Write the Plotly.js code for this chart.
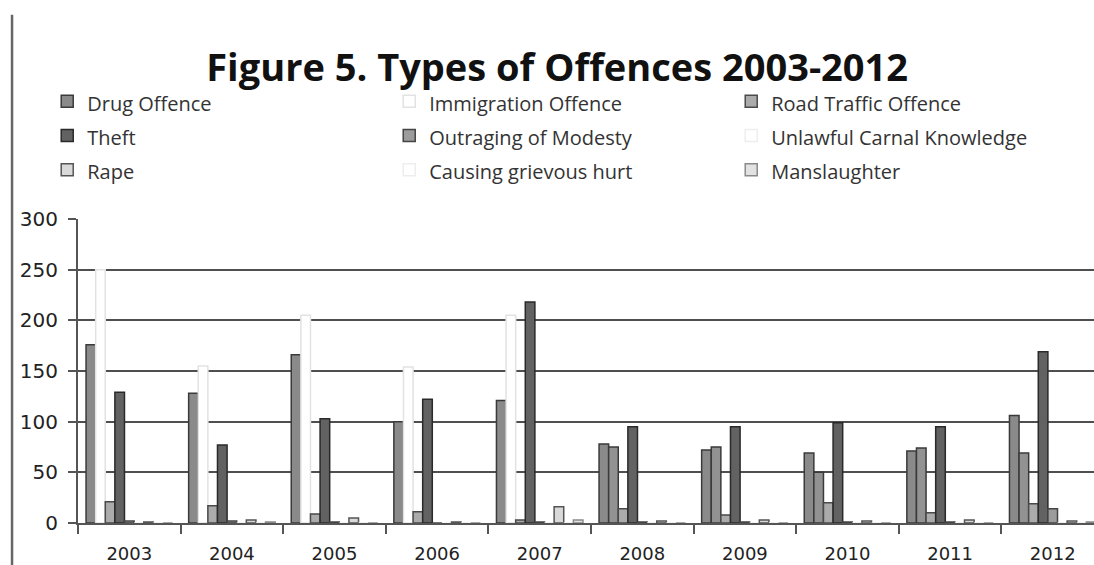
<!DOCTYPE html>
<html>
<head>
<meta charset="utf-8">
<script src="https://cdn.plot.ly/plotly-3.0.1.min.js"></script>
<style>
  html, body { margin: 0; padding: 0; background: #ffffff; overflow: hidden; width: 1094px; height: 565px; }
  #chart { width: 1120px; height: 565px; }
  #chart .legendtext { font-size: 20px !important; }
</style>
</head>
<body>
<div id="chart"></div>
<script>
// ---- data ----
const years = ['2003', '2004', '2005', '2006', '2007', '2008', '2009', '2010', '2011', '2012'];
const drugOffence        = [176, 128, 166, 100, 121, 78, 72, 69, 71, 106];
const immigrationOffence = [250, 155, 205, 154, 205, 75, 75, 50, 74, 69];
const roadTrafficOffence = [21, 17, 9, 11, 3, 14, 8, 20, 10, 19];
const theft              = [129, 77, 103, 122, 218, 95, 95, 99, 95, 169];
const outragingModesty   = [2, 2, 1, 0, 1, 1, 1, 1, 1, 14];
const unlawfulCarnal     = [0, 0, 0, 0, 0, 0, 0, 0, 0, 0];
const rape               = [1, 3, 5, 1, 16, 2, 3, 2, 3, 2];
const causingHurt        = [0, 0, 0, 0, 0, 0, 0, 0, 0, 0];
const manslaughter       = [0, 1, 0, 0, 3, 0, 0, 0, 0, 1];

const seriesNames = ['Drug Offence', 'Immigration Offence', 'Road Traffic Offence',
  'Theft', 'Outraging of Modesty', 'Unlawful Carnal Knowledge',
  'Rape', 'Causing grievous hurt', 'Manslaughter'];
const seriesValues = [drugOffence, immigrationOffence, roadTrafficOffence, theft,
  outragingModesty, unlawfulCarnal, rape, causingHurt, manslaughter];

// ---- styles ----
const fills = [
  '#8a8a8a',
  ['#ffffff', '#ffffff', '#ffffff', '#ffffff', '#ffffff', '#929292', '#929292', '#929292', '#929292', '#929292'],
  '#ababab', '#626262', '#9c9c9c', '#ffffff', '#d9d9d9', '#ffffff', '#e2e2e2'];
const edges = [
  '#3a3a3a',
  ['#e2e2e2', '#e2e2e2', '#e2e2e2', '#e2e2e2', '#e2e2e2', '#3a3a3a', '#3a3a3a', '#3a3a3a', '#3a3a3a', '#3a3a3a'],
  '#4a4a4a', '#2a2a2a', '#444444', '#eeeeee', '#555555', '#eeeeee', '#8a8a8a'];

const traces = seriesNames.map((name, i) => ({
  type: 'bar',
  name: name,
  x: years,
  y: seriesValues[i],
  marker: { color: fills[i], line: { color: edges[i], width: 1.5 } },
  hoverinfo: 'x+y+name'
}));

const layout = {
  width: 1120,
  height: 565,
  margin: { l: 78, r: 16, t: 219, b: 42, pad: 0 },
  paper_bgcolor: '#ffffff',
  plot_bgcolor: '#ffffff',
  barmode: 'group',
  bargap: 0.157,
  bargroupgap: 0,
  title: {
    text: '<b>Figure 5. Types of Offences 2003-2012</b>',
    font: { family: 'Open Sans, Liberation Sans, sans-serif', size: 38, color: '#111111' },
    xref: 'paper', x: 0.467, xanchor: 'center',
    yref: 'container', y: 0.88, yanchor: 'middle'
  },
  showlegend: true,
  legend: {
    orientation: 'h',
    traceorder: 'normal',
    entrywidth: 297,
    entrywidthmode: 'pixels',
    x: -0.03, xanchor: 'left',
    y: 1.46, yanchor: 'top',
    font: { family: 'Open Sans, Liberation Sans, sans-serif', size: 24, color: '#333333' },
    bgcolor: 'rgba(0,0,0,0)'
  },
  xaxis: {
    type: 'category',
    tickson: 'boundaries',
    ticks: 'outside',
    ticklen: 9,
    tickwidth: 2,
    tickcolor: '#555555',
    showline: true,
    linecolor: '#555555',
    linewidth: 2,
    showgrid: false,
    ticklabelstandoff: 13,
    tickfont: { family: 'DejaVu Sans, sans-serif', size: 18, color: '#222222' },
    fixedrange: true
  },
  yaxis: {
    range: [0, 300],
    dtick: 50,
    tick0: 0,
    ticks: 'outside',
    ticklen: 8,
    tickwidth: 2,
    tickcolor: '#555555',
    showline: true,
    linecolor: '#555555',
    linewidth: 2,
    showgrid: true,
    gridcolor: '#4f4f4f',
    gridwidth: 2,
    zeroline: false,
    ticklabelstandoff: 6,
    tickfont: { family: 'DejaVu Sans, sans-serif', size: 20, color: '#222222' },
    fixedrange: true
  },
  shapes: [{
    type: 'line', xref: 'paper', yref: 'paper',
    x0: -0.0643, x1: -0.0643, y0: 1.672, y1: -0.2,
    line: { color: '#666666', width: 2.5 }
  }]
};

Plotly.newPlot('chart', traces, layout, { displayModeBar: false, staticPlot: true });
</script>
</body>
</html>
